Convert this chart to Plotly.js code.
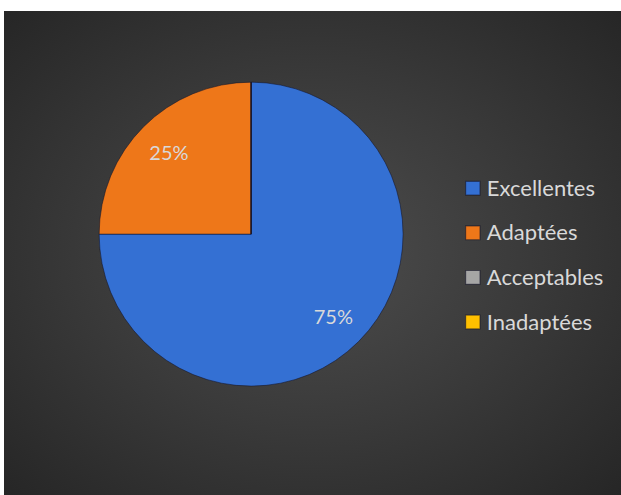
<!DOCTYPE html>
<html>
<head>
<meta charset="utf-8">
<script src="https://cdn.plot.ly/plotly-3.0.1.min.js"></script>
<style>
  html, body { margin: 0; padding: 0; background: #ffffff; width: 621px; height: 495px; overflow: hidden; }
  #frame {
    position: absolute; left: 4px; top: 11px; width: 617px; height: 484px;
    background: radial-gradient(ellipse farthest-corner at 50% 50%, #4d4d4d 0%, #3a3a3a 50%, #262626 100%);
  }
  #chart { width: 617px; height: 484px; }
  #chart .legend .legendtext { transform: translate(-6px, -5px); }
  #chart .legend path.legendpie { transform: translate(20px, 0px) scale(1.2, 1.15); }
</style>
</head>
<body>
<div id="frame"><div id="chart"></div></div>
<script>
const categories = ["Excellentes", "Adaptées", "Acceptables", "Inadaptées"];
const values = [75, 25, 0, 0];
const colors = ["#3470d3", "#ee7719", "#a5a5a5", "#ffc000"];

const legendLabels = categories.map(c => '<span style="font-size:22px">' + c + '</span>');

const trace = {
  type: "pie",
  labels: legendLabels,
  values: values,
  sort: false,
  direction: "clockwise",
  rotation: 0,
  marker: { colors: colors, line: { color: "rgba(20,20,40,0.55)", width: 1 } },
  textinfo: "percent",
  texttemplate: "%{percent:.0%}",
  textposition: "inside",
  insidetextorientation: "horizontal",
  insidetextfont: { family: "Lato, 'Open Sans', sans-serif", size: 20, color: "#d9d9d9" },
  hoverinfo: "none",
  domain: { x: [0.154, 0.647], y: [0.225, 0.853] },
  showlegend: true
};

const layout = {
  width: 617, height: 484,
  margin: { l: 0, r: 0, t: 0, b: 0 },
  paper_bgcolor: "rgba(0,0,0,0)",
  plot_bgcolor: "rgba(0,0,0,0)",
  font: { family: "Lato, 'Open Sans', sans-serif", color: "#d9d9d9" },
  showlegend: true,
  legend: {
    x: 0.7274, xanchor: "left",
    y: 0.495, yanchor: "middle",
    font: { size: 32, color: "#d9d9d9", family: "Lato, 'Open Sans', sans-serif" },
    bgcolor: "rgba(0,0,0,0)",
    traceorder: "normal"
  }
};

// radial position of percentage labels, as a fraction of the pie radius
const LABEL_RADIUS = 0.765;

Plotly.newPlot("chart", [trace], layout, { displayModeBar: false, staticPlot: true }).then(gd => {
  const cd0 = gd.calcdata[0][0];
  const cx = cd0.cx, cy = cd0.cy, r = cd0.r;
  const host = gd.querySelector(".main-svg").getBoundingClientRect();
  gd.querySelectorAll("g.slicetext").forEach(el => {
    const b = el.getBoundingClientRect();
    if (!b.width) return;
    const tx = b.left + b.width / 2 - host.left;
    const ty = b.top + b.height / 2 - host.top;
    const vx = tx - cx, vy = ty - cy;
    const d = Math.hypot(vx, vy);
    if (!d) return;
    const k = (LABEL_RADIUS * r) / d - 1;
    const old = el.getAttribute("transform") || "";
    el.setAttribute("transform", "translate(" + (vx * k) + "," + (vy * k) + ") " + old);
  });
});
</script>
</body>
</html>
